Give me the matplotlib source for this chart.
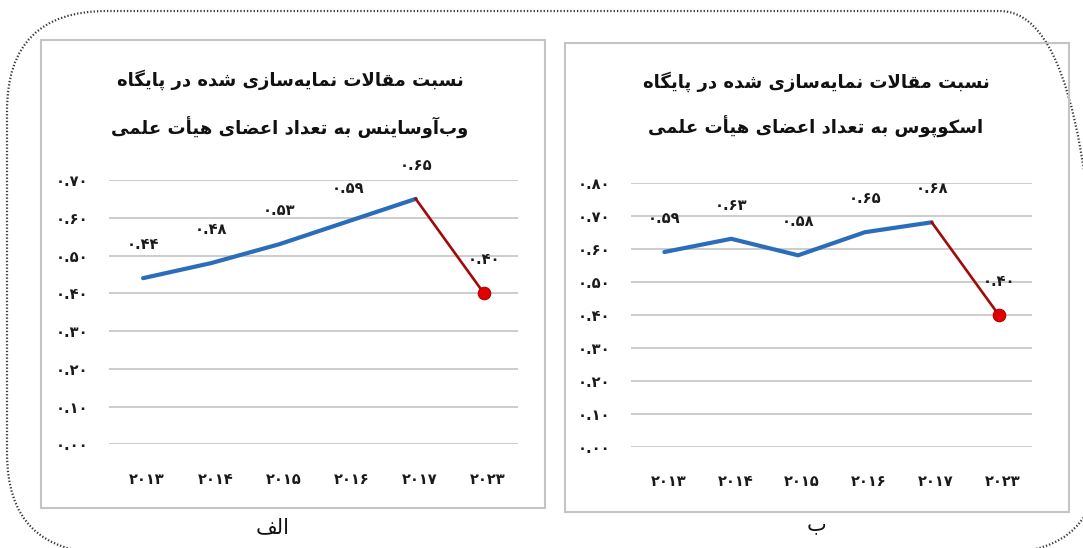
import matplotlib
matplotlib.use("Agg")
import matplotlib.pyplot as plt
from matplotlib.patches import FancyBboxPatch, Rectangle
import matplotlib.transforms as mtransforms

# ---------------- data ----------------
years = ["2013", "2014", "2015", "2016", "2017", "2023"]
wos_values = [0.44, 0.48, 0.53, 0.59, 0.65, 0.40]
scopus_values = [0.59, 0.63, 0.58, 0.65, 0.68, 0.40]
wos_ticks = [0.0, 0.1, 0.2, 0.3, 0.4, 0.5, 0.6, 0.7]
scopus_ticks = [0.0, 0.1, 0.2, 0.3, 0.4, 0.5, 0.6, 0.7, 0.8]
title_left = ["نسبت مقالات نمایه\u200cسازی شده در پایگاه",
              "وب\u200cآوساینس به تعداد اعضای هیأت علمی"]
title_right = ["نسبت مقالات نمایه\u200cسازی شده در پایگاه",
               "اسکوپوس به تعداد اعضای هیأت علمی"]
caption_left = "الف"
caption_right = "ب"

# ---------------- simple Persian shaping ----------------
FORMS = {
    'ا': ('\uFE8D', '\uFE8E', None, None),
    'آ': ('\uFE81', '\uFE82', None, None),
    'أ': ('\uFE83', '\uFE84', None, None),
    'ب': ('\uFE8F', '\uFE90', '\uFE91', '\uFE92'),
    'پ': ('\uFB56', '\uFB57', '\uFB58', '\uFB59'),
    'ت': ('\uFE95', '\uFE96', '\uFE97', '\uFE98'),
    'د': ('\uFEA9', '\uFEAA', None, None),
    'ر': ('\uFEAD', '\uFEAE', None, None),
    'ز': ('\uFEAF', '\uFEB0', None, None),
    'س': ('\uFEB1', '\uFEB2', '\uFEB3', '\uFEB4'),
    'ش': ('\uFEB5', '\uFEB6', '\uFEB7', '\uFEB8'),
    'ض': ('\uFEBD', '\uFEBE', '\uFEBF', '\uFEC0'),
    'ع': ('\uFEC9', '\uFECA', '\uFECB', '\uFECC'),
    'ف': ('\uFED1', '\uFED2', '\uFED3', '\uFED4'),
    'ق': ('\uFED5', '\uFED6', '\uFED7', '\uFED8'),
    'ک': ('\uFB8E', '\uFB8F', '\uFB90', '\uFB91'),
    'گ': ('\uFB92', '\uFB93', '\uFB94', '\uFB95'),
    'ل': ('\uFEDD', '\uFEDE', '\uFEDF', '\uFEE0'),
    'م': ('\uFEE1', '\uFEE2', '\uFEE3', '\uFEE4'),
    'ن': ('\uFEE5', '\uFEE6', '\uFEE7', '\uFEE8'),
    'و': ('\uFEED', '\uFEEE', None, None),
    'ه': ('\uFEE9', '\uFEEA', '\uFEEB', '\uFEEC'),
    'ی': ('\uFBFC', '\uFBFD', '\uFBFE', '\uFBFF'),
}
LAM_ALEF = {'ا': ('\uFEFB', '\uFEFC'), 'أ': ('\uFEF7', '\uFEF8'), 'آ': ('\uFEF5', '\uFEF6')}


def _joins_next(c):
    return c in FORMS and FORMS[c][2] is not None


def shape(text):
    chars = list(text)
    n = len(chars)
    out = []
    i = 0
    while i < n:
        c = chars[i]
        prev = chars[i - 1] if i > 0 else None
        conn_prev = prev is not None and _joins_next(prev) and c in FORMS
        if c == 'ل' and i + 1 < n and chars[i + 1] in LAM_ALEF:
            iso, fin = LAM_ALEF[chars[i + 1]]
            out.append(fin if conn_prev else iso)
            i += 2
            continue
        if c not in FORMS:
            if c != '\u200c':
                out.append(c)
            i += 1
            continue
        nxt = chars[i + 1] if i + 1 < n else None
        conn_next = _joins_next(c) and nxt is not None and nxt in FORMS
        iso, fin, ini, med = FORMS[c]
        if conn_prev and conn_next:
            g = med
        elif conn_prev:
            g = fin
        elif conn_next:
            g = ini
        else:
            g = iso
        out.append(g)
        i += 1
    return ''.join(reversed(out))


FA_DIGITS = str.maketrans("0123456789", "۰۱۲۳۴۵۶۷۸۹")


def fa(s):
    return s.translate(FA_DIGITS)


# ---------------- figure ----------------
W, H = 1083, 548
fig = plt.figure(figsize=(W / 100, H / 100), dpi=100)
fig.patch.set_facecolor("white")
FONT = "DejaVu Sans"

def fx(px):
    return px / W

def fy(py):
    return 1 - py / H

# background axes in pixel coordinates (y measured upward)
bg = fig.add_axes([0, 0, 1, 1])
bg.set_xlim(0, W)
bg.set_ylim(0, H)
bg.axis("off")
bg.add_patch(FancyBboxPatch((7, H - 553), 1100 - 7, 553 - 11,
                            boxstyle="round,pad=0,rounding_size=100",
                            fill=False, edgecolor="#3a3a3a", linewidth=1.6,
                            linestyle=(0, (0.6, 0.9)), clip_on=False))
for (x0, y0, x1, y1) in [(41, 39.5, 545, 508), (565, 42.7, 1069, 511.7)]:
    bg.add_patch(Rectangle((x0, H - y1), x1 - x0, y1 - y0, fill=False,
                           edgecolor="#C4C4C4", linewidth=1.5))

BLUE = "#2C6DBA"
DARKRED = "#A00A0A"
RED = "#E00000"
GRID = "#C8C8C8"


def panel(rect_px, values, ticks, title_lines, title_cx, title_ys, caption, cap_xy):
    x0, x1, ytop, ybot = rect_px
    ax = fig.add_axes([fx(x0), fy(ybot), fx(x1 - x0), (ybot - ytop) / H])
    xs = list(range(len(values)))
    ax.set_xlim(-0.5, len(values) - 0.5)
    ax.set_ylim(ticks[0], ticks[-1])
    for t in ticks:
        ax.axhline(t, color=GRID, linewidth=1.3, zorder=1)
    ax.plot(xs[:5], values[:5], color=BLUE, linewidth=3.0, solid_capstyle="round",
            solid_joinstyle="round", zorder=3)
    ax.plot(xs[4:6], values[4:6], color=DARKRED, linewidth=1.9, zorder=3)
    ax.plot([xs[5]], [values[5]], marker="o", markersize=9, markerfacecolor=RED,
            markeredgecolor="#B00000", markeredgewidth=0.8, linestyle="none", zorder=4)
    for x, v in zip(xs, values):
        ax.annotate(fa(f"{v:.2f}"), (x, v), xytext=(0, 24), textcoords="offset points",
                    ha="center", va="center", fontsize=10.5, fontweight="bold",
                    family=FONT, color="#1a1a1a")
    ax.set_yticks(ticks)
    ax.set_yticklabels([fa(f"{t:.2f}") for t in ticks])
    ax.set_xticks(xs)
    ax.set_xticklabels([fa(y) for y in years])
    ax.tick_params(axis="both", length=0, labelsize=10.5, colors="#1a1a1a")
    ax.tick_params(axis="y", pad=15)
    ax.tick_params(axis="x", pad=20)
    for lab in ax.get_xticklabels() + ax.get_yticklabels():
        lab.set_fontweight("bold")
        lab.set_family(FONT)
    off = mtransforms.ScaledTranslation(4 / 100, 0, fig.dpi_scale_trans)
    for lab in ax.get_xticklabels():
        lab.set_transform(lab.get_transform() + off)
    for s in ax.spines.values():
        s.set_visible(False)
    ax.set_facecolor("none")
    for line, yy in zip(title_lines, title_ys):
        fig.text(fx(title_cx), fy(yy), shape(line), ha="center", va="center",
                 fontsize=13, fontweight="bold", family=FONT, color="#111111")
    fig.text(fx(cap_xy[0]), fy(cap_xy[1]), shape(caption), ha="center", va="center",
             fontsize=15, family=FONT, color="#111111")
    return ax


panel((109, 518, 180, 444.3), wos_values, wos_ticks, title_left, 290, (80, 128),
      caption_left, (273, 527))
panel((631, 1032, 182.7, 446.7), scopus_values, scopus_ticks, title_right, 816, (82, 127),
      caption_right, (817, 524))

fig.savefig("out.png", dpi=100, facecolor="white")
